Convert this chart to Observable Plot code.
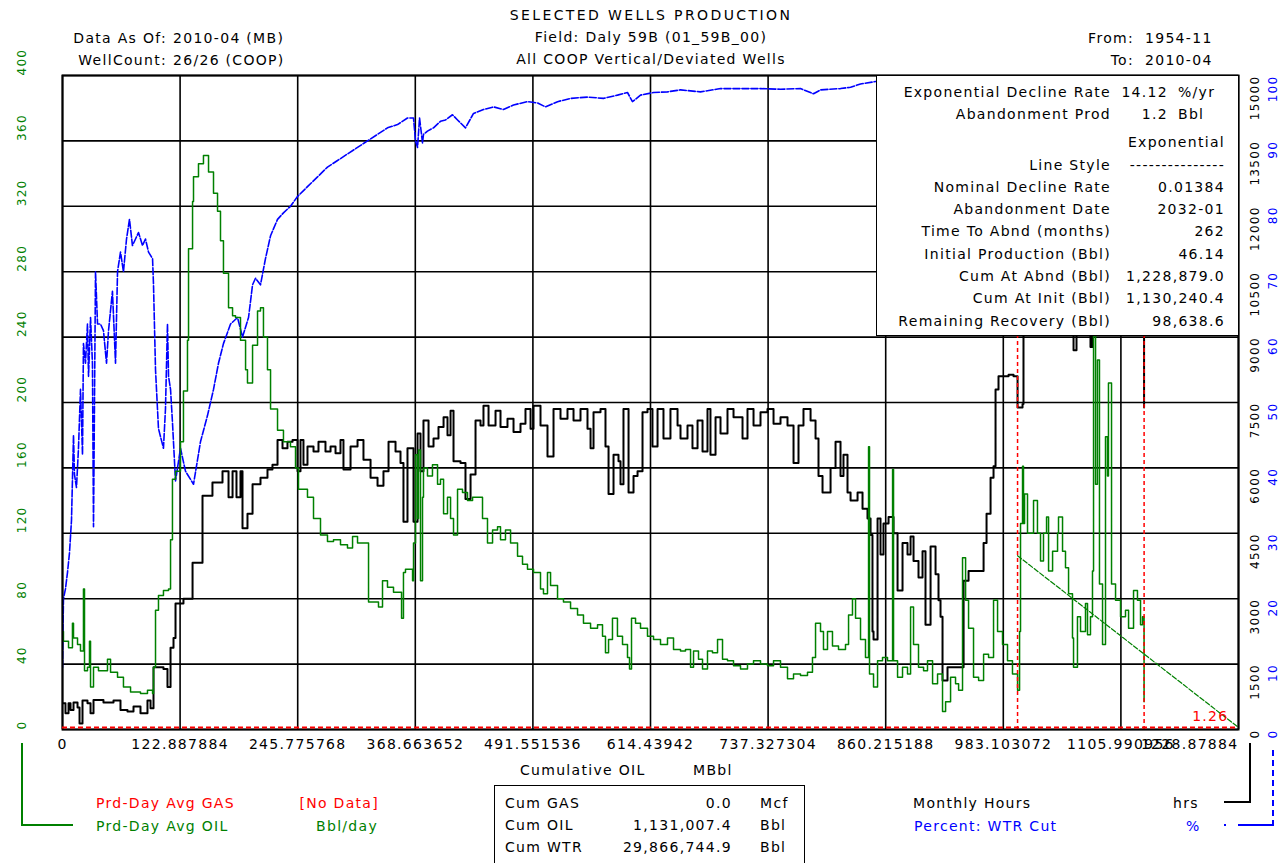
<!DOCTYPE html>
<html><head><meta charset="utf-8">
<script src="https://cdn.jsdelivr.net/npm/d3@7"></script>
<script src="https://cdn.jsdelivr.net/npm/@observablehq/plot@0.6"></script>
<style>
body{margin:0;background:#fff;}
#wrap{position:relative;width:1283px;height:863px;overflow:hidden;font-family:"DejaVu Sans",sans-serif;font-size:14px;letter-spacing:1.3px;color:#000;background:#fff;}
#wrap svg{position:absolute;left:0;top:0;}
.t{position:absolute;white-space:nowrap;line-height:16px;}
.box{position:absolute;background:#fff;border:1.5px solid #000;box-sizing:border-box;}
</style></head><body><div id="wrap"></div>
<script>
// ---- axis ticks ----
const xTicks = [0,122.887884,245.775768,368.663652,491.551536,614.43942,737.327304,860.215188,983.103072,1105.990956,1228.87884];
const xTickLabels = ["0","122.887884","245.775768","368.663652","491.551536","614.43942","737.327304","860.215188","983.103072","1105.990956","1228.87884"];
const yTicks = [0,40,80,120,160,200,240,280,320,360,400];
const oilTickLabels = ["0","40","80","120","160","200","240","280","320","360","400"];
const hrsTickLabels = ["0","1500","3000","4500","6000","7500","9000","10500","12000","13500","15000"];
const wcutTickLabels = ["0","10","20","30","40","50","60","70","80","90","100"];

// ---- series: [cumulative oil MBbl, value] ----
const oilRate = [[0,60],[1.0,54],[3.1,54],[6.3,50],[10.4,65],[11.5,56],[15.7,52],[18.8,48],[21.9,86],[23.0,36],[26.1,38],[28.2,54],[29.3,26],[32.4,38],[37.6,36],[44.9,36],[47.0,43],[50.2,35],[57.5,32],[63.7,26],[71.1,23],[81.5,22],[88.8,24],[94.1,22],[95.1,38],[97.2,73],[100.3,82],[105.5,85],[110.8,86],[112.9,116],[114.9,153],[118.1,158],[123.3,176],[126.4,207],[130.6,238],[131.7,294],[135.9,323],[136.9,338],[142.1,346],[147.3,351],[152.6,341],[157.8,328],[162.0,317],[165.1,299],[168.2,279],[173.5,258],[177.7,253],[180.8,252],[186.0,238],[191.3,220],[193.3,212],[198.6,235],[203.8,256],[206.9,258],[210.0,240],[214.2,220],[217.4,196],[224.7,183],[230.9,176],[238.2,173],[243.5,160],[246.6,147],[256.0,142],[262.3,129],[269.6,119],[276.9,115],[283.2,116],[290.5,113],[297.8,111],[303.1,118],[308.3,114],[314.5,114],[319.8,78],[325.0,78],[330.2,75],[334.4,91],[339.6,87],[345.9,84],[351.1,84],[354.3,68],[356.3,96],[358.4,98],[361.6,98],[365.8,91],[366.8,114],[368.9,168],[371.0,129],[372.0,171],[374.1,91],[376.2,142],[377.2,160],[381.4,155],[386.6,162],[391.9,150],[395.0,153],[398.2,132],[402.3,142],[405.5,129],[408.6,119],[412.8,147],[418.0,145],[423.2,140],[428.5,142],[433.7,142],[438.9,129],[444.1,114],[449.4,122],[454.6,124],[457.7,116],[462.9,122],[468.2,114],[475.5,106],[480.7,101],[485.9,98],[492.2,96],[499.5,86],[502.6,83],[506.8,96],[510.0,88],[517.3,80],[523.5,78],[530.9,74],[538.2,70],[544.4,65],[551.8,62],[559.1,64],[564.3,57],[567.4,47],[570.6,55],[574.7,68],[579.9,57],[585.2,52],[590.4,44],[592.5,37],[594.6,68],[598.8,65],[604.0,62],[611.3,57],[617.6,55],[624.9,52],[632.2,56],[638.5,49],[645.8,48],[651.0,49],[656.3,38],[659.4,48],[664.6,43],[668.8,37],[674.0,48],[679.2,47],[684.5,55],[689.7,43],[694.9,42],[701.2,39],[708.5,37],[715.8,40],[722.1,42],[729.4,40],[736.7,39],[743.0,42],[750.3,38],[757.6,31],[763.9,34],[771.2,33],[778.5,35],[783.7,44],[786.9,65],[792.1,60],[795.2,49],[799.4,60],[804.6,51],[810.9,49],[818.2,52],[821.4,70],[825.5,80],[828.7,68],[833.9,55],[839.1,44],[842.3,173],[843.3,34],[847.5,26],[851.7,42],[856.9,44],[862.1,42],[867.4,159],[868.4,42],[872.6,32],[877.8,38],[883.0,34],[886.2,75],[889.3,52],[894.5,38],[899.8,36],[903.9,42],[909.2,28],[914.4,34],[919.6,11],[922.8,17],[928.0,32],[933.2,28],[936.4,24],[940.5,105],[943.7,79],[946.8,62],[952.0,32],[957.3,30],[962.5,46],[967.7,44],[972.9,79],[977.1,60],[982.3,52],[987.5,42],[992.7,34],[998.0,24],[1000.1,60],[1001.1,126],[1003.2,161],[1004.2,126],[1005.3,144],[1008.4,120],[1013.6,120],[1014.7,140],[1018.8,120],[1022.0,103],[1025.1,120],[1028.3,130],[1030.4,97],[1034.6,109],[1039.8,120],[1040.8,130],[1045.0,109],[1048.1,99],[1051.3,83],[1055.4,56],[1056.5,38],[1060.6,69],[1063.8,60],[1069.0,77],[1071.1,58],[1074.2,69],[1076.3,97],[1077.4,245],[1079.5,150],[1081.5,226],[1083.6,89],[1086.8,52],[1089.9,179],[1092.0,155],[1093.0,212],[1096.2,89],[1100.4,79],[1105.6,69],[1110.8,73],[1114.0,62],[1119.2,85],[1123.3,79],[1126.5,64],[1128.6,69],[1130.2,17]];

const monthlyHours = [[0,600],[3.1,375],[6.3,600],[8.4,450],[11.5,619],[15.7,506],[17.8,139],[20.9,664],[26.1,600],[29.3,375],[32.4,675],[42.8,619],[53.3,664],[60.6,450],[67.9,413],[74.2,525],[81.5,375],[88.8,664],[92.0,488],[95.1,1425],[105.5,1388],[109.7,975],[112.9,1875],[116.0,2100],[118.1,2888],[126.4,3000],[135.9,3825],[146.3,5363],[156.7,5663],[167.2,5925],[173.5,5325],[177.7,5925],[181.8,5325],[186.0,5925],[188.1,4613],[193.3,4950],[198.6,5625],[206.9,5775],[214.2,5963],[219.4,6075],[224.7,6638],[229.9,6450],[235.1,6600],[240.4,6638],[245.6,5925],[248.7,6638],[251.8,6075],[256.0,6488],[262.3,6375],[267.5,6600],[274.8,6375],[280.1,6488],[285.3,6338],[290.5,6638],[293.6,5963],[301.0,6488],[308.3,6638],[314.5,6188],[321.9,5775],[329.2,5588],[335.4,5925],[340.7,6600],[348.0,6375],[353.2,6113],[356.3,4763],[360.5,6450],[366.8,4763],[371.0,6788],[374.1,5925],[377.2,7088],[382.5,6488],[387.7,6675],[392.9,6938],[398.2,7163],[402.3,6750],[405.5,7313],[408.6,6150],[415.9,6113],[421.1,5288],[426.4,5850],[431.6,7088],[436.8,6975],[439.9,7425],[445.2,6975],[452.5,7313],[457.7,6938],[465.0,7125],[471.3,6825],[478.6,7013],[483.8,7350],[489.1,6900],[492.2,7425],[499.5,6975],[506.8,6263],[513.1,7350],[520.4,7125],[527.7,7350],[534.0,7088],[541.3,7350],[548.6,6900],[551.8,6450],[554.9,7275],[562.2,7350],[567.4,6488],[570.6,5400],[575.8,6300],[581.0,6150],[583.1,5625],[586.2,7350],[591.5,5438],[596.7,5813],[600.9,5925],[606.1,7275],[611.3,7350],[616.5,6488],[621.8,7350],[628.0,6675],[635.3,7350],[642.7,6975],[645.8,6675],[653.1,6975],[658.3,6450],[663.6,7088],[668.8,6375],[674.0,7350],[677.1,6300],[682.4,7163],[687.6,6788],[694.9,7350],[701.2,7163],[710.6,6675],[715.8,7350],[722.1,6975],[729.4,7275],[736.7,7350],[743.0,7013],[750.3,7163],[757.6,6975],[763.9,6113],[769.1,6975],[774.3,7350],[781.7,7088],[786.9,6675],[790.0,5813],[794.2,5438],[799.4,5438],[802.6,6000],[807.8,6600],[813.0,5813],[816.1,6300],[820.3,5438],[823.5,5250],[830.8,5438],[836.0,5063],[841.2,4838],[844.4,4463],[846.4,2250],[847.5,2063],[851.7,4838],[854.8,4013],[857.9,4725],[863.2,4875],[868.4,4500],[872.6,3188],[877.8,4275],[883.0,4013],[886.2,4425],[889.3,3863],[894.5,3488],[898.7,4088],[901.8,2400],[907.1,4200],[912.3,3563],[915.4,2963],[917.5,2588],[919.6,1125],[924.8,1425],[931.1,1425],[938.4,1425],[941.6,3413],[946.8,3638],[954.1,3638],[959.3,3638],[962.5,4275],[965.6,4950],[969.8,5775],[972.9,6038],[975.0,7800],[978.1,8100],[983.3,8100],[988.6,8138],[993.8,8100],[998.0,7388],[1003.2,7463],[1004.2,9375],[1016.8,9563],[1032.5,9450],[1048.1,9375],[1056.5,8700],[1059.6,9563],[1074.2,8775],[1076.3,9450],[1095.1,9563],[1116.0,9375],[1128.6,9450],[1130.2,7388]];

const waterCut = [[0,9.5],[1.0,20],[3.1,21.5],[5.2,24],[7.3,27],[9.4,32],[11.5,45],[12.5,39],[14.6,37],[16.7,43],[18.8,52],[20.9,42],[21.9,59],[24.0,56],[26.1,62],[27.2,54],[29.3,63],[31.3,56],[32.4,31],[34.5,70],[36.6,62],[39.7,62],[42.8,61],[46.0,56],[48.1,61],[52.2,67],[55.4,56],[57.5,70],[60.6,73],[63.7,70],[66.9,75],[70.0,78],[73.1,74],[76.3,75],[79.4,76],[83.6,74],[86.7,75],[89.9,73],[94.1,72],[95.1,68],[97.2,55],[100.3,46],[105.5,43],[107.6,49],[109.7,62],[110.8,54],[112.9,52],[114.9,47],[118.1,38],[123.3,43],[128.5,39.5],[136.9,37.5],[144.2,44],[151.5,48],[157.8,52],[163.0,56],[168.2,59],[175.6,62],[182.9,63],[188.1,60],[194.4,63],[198.6,68],[201.7,69],[206.9,68],[212.1,72],[217.4,75.5],[224.7,78],[230.9,79],[238.2,80],[245.6,81.5],[256.0,83],[266.5,84.5],[276.9,86],[287.4,87],[297.8,88],[308.3,89],[318.7,90],[329.2,91],[339.6,92],[350.1,92.5],[360.5,93.5],[366.8,93.5],[368.9,90],[371.0,89],[373.1,93.5],[376.2,89.7],[377.2,91],[381.4,91.5],[387.7,92],[395.0,93],[400.2,93.2],[407.5,94],[412.8,93.2],[421.1,92],[429.5,94.2],[439.9,94.8],[450.4,95.2],[460.8,94.8],[471.3,95.5],[485.9,96],[496.4,95.8],[504.7,95.2],[517.3,96],[530.9,96.5],[548.6,96.7],[565.3,96.5],[579.9,97],[590.4,97.4],[595.6,96],[604.0,97],[617.6,97.4],[632.2,97.5],[645.8,97.8],[666.7,97.5],[687.6,98],[708.5,98],[729.4,98],[750.3,97.9],[771.2,98],[784.8,97.2],[792.1,97.8],[813.0,98],[823.5,98.2],[833.9,98.7],[846.4,99],[854.8,99.2]];

const gasRate = [0];                         // [No Data] -> plotted at zero
const declineCum = [998.0, 1130.24, 1228.879];
const declineRate = [106.3, 46.14, 1.26];
const forecastBounds = [998.0, 1130.24];

// ---- texts ----
const titleLines = ["SELECTED WELLS PRODUCTION","Field: Daly 59B (01_59B_00)","All COOP Vertical/Deviated Wells"];
const infoLeftKeys = ["Data As Of:","WellCount:"];
const infoLeftVals = ["2010-04 (MB)","26/26 (COOP)"];
const infoRightKeys = ["From:","To:"];
const infoRightVals = ["1954-11","2010-04"];
const tableLabels = ["Exponential Decline Rate","Abandonment Prod","","Line Style","Nominal Decline Rate","Abandonment Date","Time To Abnd (months)","Initial Production (Bbl)","Cum At Abnd (Bbl)","Cum At Init (Bbl)","Remaining Recovery (Bbl)"];
const tableValues = ["14.12","1.2","Exponential","---------------","0.01384","2032-01","262","46.14","1,228,879.0","1,130,240.4","98,638.6"];
const tableUnits = ["%/yr","Bbl","","","","","","","","",""];
const cumLabels = ["Cum GAS","Cum OIL","Cum WTR"];
const cumValues = ["0.0","1,131,007.4","29,866,744.9"];
const cumUnits = ["Mcf","Bbl","Bbl"];

const W = 1283, H = 863;
const GREEN = "#008000", RED = "#ff0000", BLUE = "#0000ff";
const k = 400 / 15000; // hours -> left-axis units
const yFromPct = v => v * 4;

const oil = oilRate.map(([c, v]) => ({c, v}));
const hrs = monthlyHours.map(([c, v]) => ({c, v}));
const wc = waterCut.map(([c, v]) => ({c, v}));
const dec = declineCum.map((c, i) => ({c, v: declineRate[i]}));

const chart = Plot.plot({
  width: W, height: H,
  marginLeft: 62, marginRight: 45, marginTop: 75, marginBottom: 134,
  x: {domain: [0, 1228.87884], axis: null},
  y: {domain: [0, 400], axis: null},
  style: {fontFamily: "DejaVu Sans, sans-serif", fontSize: "14px", background: "transparent", color: "#000"},
  marks: [
    Plot.ruleX(xTicks, {stroke: "#000", strokeWidth: 1.6}),
    Plot.ruleY(yTicks, {stroke: "#000", strokeWidth: 1.6}),
    Plot.line(wc, {x: "c", y: d => yFromPct(d.v), stroke: BLUE, strokeWidth: 1.6, strokeDasharray: "7,2", clip: true}),
    Plot.line(hrs, {x: "c", y: d => d.v * k, curve: "step-after", stroke: "#000", strokeWidth: 2, clip: true}),
    Plot.line(oil, {x: "c", y: "v", curve: "step-after", stroke: GREEN, strokeWidth: 1.5, clip: true}),
    Plot.ruleX(forecastBounds, {stroke: RED, strokeWidth: 1.5, strokeDasharray: "4,3"}),
    Plot.line(dec, {x: "c", y: "v", stroke: GREEN, strokeWidth: 1.2, strokeDasharray: "5,2", clip: true}),
    Plot.text(dec.slice(-1), {x: "c", y: "v", text: d => d.v.toFixed(2), fill: RED, textAnchor: "end", dx: -10, dy: -11, fontSize: 14}),
    Plot.frame({stroke: "#000", strokeWidth: 2}),
    Plot.ruleY(gasRate, {stroke: RED, strokeWidth: 2, strokeDasharray: "5,3", dy: -2}),
    Plot.text(xTicks.slice(0, -1), {x: d => d, frameAnchor: "bottom", dy: 19, text: (d, i) => xTickLabels[i], fill: "#000", ariaLabel: "xlabels"}),
    Plot.text(xTicks.slice(-1), {x: d => d, frameAnchor: "bottom", dy: 19, text: () => xTickLabels[xTickLabels.length - 1], textAnchor: "end", fill: "#000", ariaLabel: "xlabels"}),
    Plot.text(yTicks, {y: d => d, frameAnchor: "left", dx: -40, rotate: -90, text: (d, i) => oilTickLabels[i], fill: GREEN, fontSize: 12}),
    Plot.text(yTicks, {y: d => d, frameAnchor: "right", dx: 17, rotate: -90, text: (d, i) => hrsTickLabels[i], fill: "#000", fontSize: 12}),
    Plot.text(yTicks, {y: d => d, frameAnchor: "right", dx: 35, rotate: -90, text: (d, i) => wcutTickLabels[i], fill: BLUE, fontSize: 12})
  ]
});
chart.querySelectorAll('g[aria-label="xlabels"]').forEach(g => g.style.letterSpacing = "1.3px");

const wrap = document.getElementById("wrap");
wrap.appendChild(chart);

function put(txt, x, y, align, style = {}) {
  const d = document.createElement("div");
  d.className = "t";
  d.textContent = txt;
  if (align === "r") d.style.right = (W - x) + "px"; else d.style.left = x + "px";
  if (align === "c") d.style.transform = "translateX(-50%)";
  d.style.top = (y - 8) + "px";
  Object.assign(d.style, style);
  wrap.appendChild(d);
  return d;
}
function box(x, y, w, h, style = {}) {
  const d = document.createElement("div");
  d.className = "box";
  Object.assign(d.style, {left: x + "px", top: y + "px", width: w + "px", height: h + "px"}, style);
  wrap.appendChild(d);
  return d;
}

// header
put(titleLines[0], 651, 15, "c", {letterSpacing: "2.4px"});
put(titleLines[1], 651, 37, "c");
put(titleLines[2], 651, 59, "c");
infoLeftKeys.forEach((t, i) => { put(t, 167, 38 + 22 * i, "r"); put(infoLeftVals[i], 173, 38 + 22 * i, "l"); });
infoRightKeys.forEach((t, i) => { put(t, 1134, 38 + 22 * i, "r"); put(infoRightVals[i], 1145, 38 + 22 * i, "l"); });

// decline table (covers plot area)
box(876, 75, 363, 261);
const rowY = [92, 114, 142, 165, 187, 209, 231, 254, 276, 298, 321];
tableLabels.forEach((t, i) => {
  if (t) put(t, 1111, rowY[i], "r");
  if (tableUnits[i]) { put(tableValues[i], 1168, rowY[i], "r"); put(tableUnits[i], 1178, rowY[i], "l"); }
  else put(tableValues[i], 1225, rowY[i], "r");
});

// x-axis title
put("Cumulative OIL", 520, 770, "l");
put("MBbl", 693, 770, "l");

// left legend
put("Prd-Day Avg GAS", 96, 803, "l", {color: RED});
put("[No Data]", 379, 803, "r", {color: RED});
put("Prd-Day Avg OIL", 96, 826, "l", {color: GREEN});
put("Bbl/day", 378, 826, "r", {color: GREEN});
box(21, 743, 52, 83, {border: "none", borderLeft: "2px solid " + GREEN, borderBottom: "2px solid " + GREEN, background: "transparent"});

// cumulative box
box(494, 785, 311, 100);
cumLabels.forEach((t, i) => {
  put(t, 505, 803 + 22 * i, "l");
  put(cumValues[i], 732, 803 + 22 * i, "r");
  put(cumUnits[i], 760, 803 + 22 * i, "l");
});

// right legend
put("Monthly Hours", 913, 803, "l");
put("hrs", 1173, 803, "l");
put("Percent: WTR Cut", 914, 826, "l", {color: BLUE});
put("%", 1186, 826, "l", {color: BLUE});
box(1224, 743, 27, 60, {border: "none", borderRight: "2px solid #000", borderBottom: "2px solid #000", background: "transparent"});
box(1238, 750, 36, 76, {border: "none", borderRight: "2px dashed " + BLUE, borderBottom: "2px solid " + BLUE, background: "transparent"});
box(1224, 824, 2, 2, {border: "none", background: BLUE});
</script>
</body></html>
